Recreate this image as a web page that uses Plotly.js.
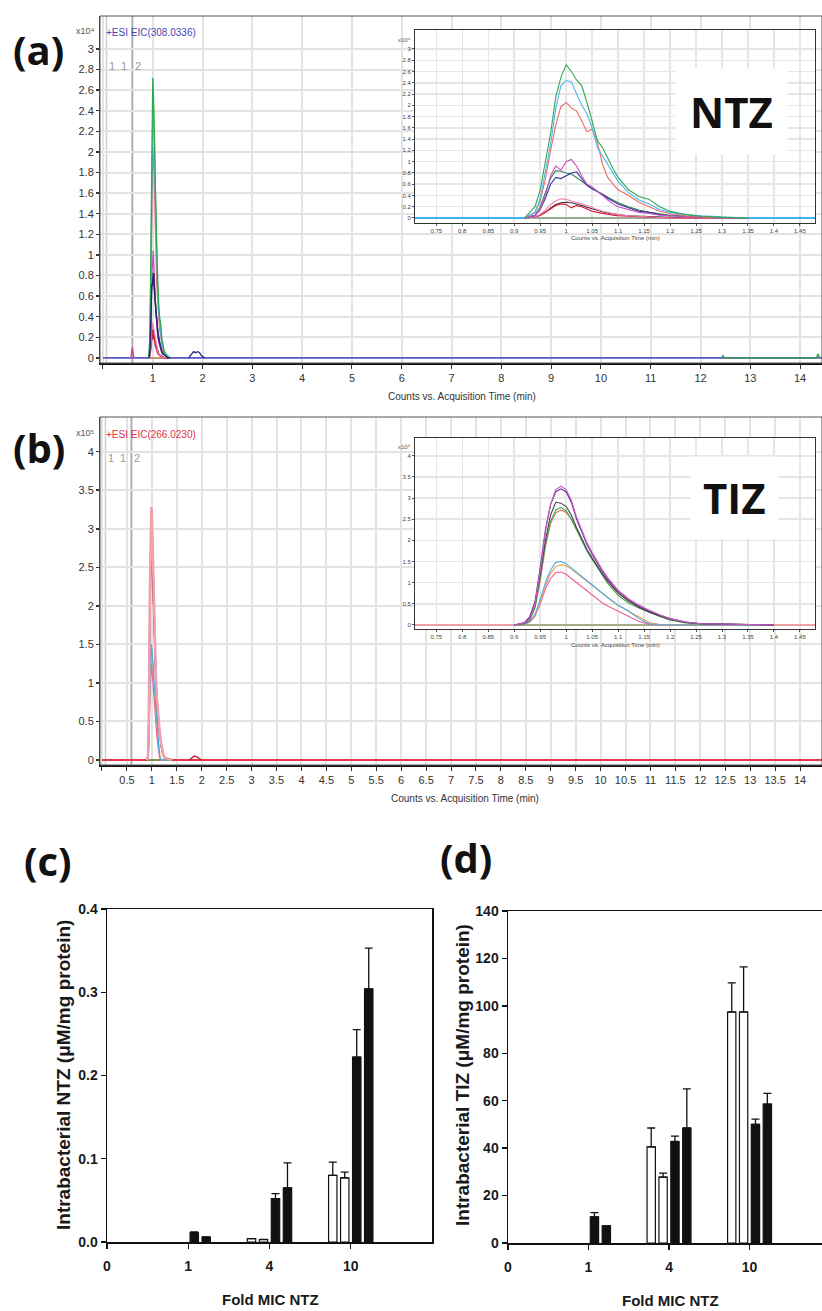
<!DOCTYPE html>
<html><head><meta charset="utf-8">
<script src="https://cdn.plot.ly/plotly-3.0.1.min.js"></script>
<style>html,body{margin:0;padding:0;background:#fff}#chart{width:822px;height:1311px}</style>
</head><body><div id="chart"></div>
<script>
// ================= DATA =================
// (a) NTZ extracted ion chromatograms, x10^4 counts vs time (min)
const tNTZ = [0.92,0.94,0.95,0.96,0.97,0.98,0.99,1.00,1.01,1.02,1.03,1.04,1.05,1.06,1.07,1.08,1.09,1.10,1.12,1.14,1.16,1.18,1.20,1.23,1.26,1.30,1.35];
const ntzGreen     = [0,0.20,0.50,1.00,1.50,2.15,2.50,2.72,2.60,2.45,2.35,2.05,1.72,1.38,1.25,1.05,0.88,0.72,0.50,0.38,0.33,0.20,0.12,0.06,0.03,0.01,0];
const ntzLightBlue = [0,0.10,0.35,0.80,1.30,1.95,2.35,2.44,2.42,2.20,2.00,1.85,1.60,1.25,1.10,0.95,0.80,0.65,0.45,0.32,0.25,0.15,0.10,0.06,0.04,0.02,0];
const ntzSalmon    = [0,0.10,0.30,0.70,1.20,1.65,1.98,2.05,1.95,1.90,1.72,1.53,1.58,1.35,0.95,0.72,0.60,0.50,0.40,0.28,0.20,0.12,0.08,0.04,0.02,0,0];
const ntzMagenta   = [0,0.05,0.15,0.40,0.75,0.92,0.85,1.00,1.04,0.92,0.75,0.60,0.55,0.48,0.40,0.32,0.25,0.20,0.15,0.10,0.08,0.05,0.04,0.03,0.02,0,0];
const ntzDarkBlue  = [0,0.05,0.15,0.35,0.60,0.72,0.70,0.75,0.80,0.82,0.70,0.58,0.52,0.47,0.42,0.35,0.30,0.25,0.18,0.12,0.10,0.06,0.04,0.03,0.02,0,0];
const ntzDarkGreen = [0,0.05,0.20,0.45,0.70,0.84,0.83,0.80,0.78,0.72,0.65,0.58,0.52,0.47,0.42,0.37,0.32,0.27,0.20,0.14,0.10,0.07,0.05,0.03,0.02,0,0];
const ntzPink      = [0,0.02,0.06,0.14,0.24,0.30,0.34,0.33,0.30,0.28,0.25,0.22,0.18,0.15,0.12,0.10,0.08,0.06,0.04,0.03,0.02,0.01,0,0,0,0,0];
const ntzBlack     = [0,0.02,0.05,0.10,0.18,0.24,0.27,0.28,0.27,0.25,0.22,0.19,0.16,0.13,0.11,0.09,0.07,0.06,0.04,0.03,0.02,0.01,0.01,0,0,0,0];
const ntzRed       = [0,0.02,0.05,0.10,0.16,0.22,0.25,0.24,0.18,0.22,0.20,0.16,0.12,0.10,0.08,0.06,0.05,0.04,0.03,0.02,0.01,0.01,0,0,0,0,0];
const ntzOrange    = [0,0,0,0,0,0,0,0,0,0,0,0,0,0,0,0,0,0,0,0,0,0,0,0,0,0,0];
// small features of the full-run NTZ trace
const tBumpA  = [1.72,1.78,1.82,1.86,1.90,1.94,1.98,2.04];
const yBumpA  = [0,0.04,0.06,0.05,0.06,0.05,0.02,0];
const tSpikeA = [0.56,0.59,0.62];
const ySpikeA = [0,0.10,0];
const tDotA   = [12.42,12.45,12.48,14.33,14.36,14.39];
const yDotA   = [0,0.02,0,0,0.04,0];

// (b) TIZ extracted ion chromatograms, x10^5 counts vs time (min)
const tTIZ = [0.90,0.92,0.93,0.94,0.95,0.96,0.97,0.98,0.99,1.00,1.01,1.02,1.03,1.04,1.05,1.06,1.07,1.08,1.10,1.12,1.14,1.16,1.18,1.20,1.23,1.26,1.30,1.35,1.40];
const tizMagenta = [0,0.05,0.15,0.50,1.30,2.20,2.85,3.20,3.28,3.20,2.95,2.55,2.25,1.95,1.72,1.50,1.30,1.12,0.82,0.62,0.47,0.35,0.24,0.15,0.07,0.03,0.02,0.01,0];
const tizPurple  = [0,0.06,0.20,0.55,1.35,2.25,2.85,3.15,3.22,3.15,2.90,2.50,2.20,1.90,1.67,1.45,1.26,1.08,0.80,0.60,0.45,0.33,0.23,0.15,0.07,0.03,0.02,0.01,0];
const tizGray    = [0,0.04,0.15,0.50,1.20,2.00,2.60,2.90,2.88,2.80,2.60,2.30,2.05,1.78,1.58,1.38,1.20,1.03,0.76,0.57,0.42,0.30,0.21,0.13,0.06,0.03,0.02,0.01,0];
const tizGreen   = [0,0.03,0.12,0.42,1.10,1.90,2.45,2.72,2.78,2.70,2.50,2.25,2.00,1.75,1.55,1.35,1.15,0.98,0.70,0.52,0.40,0.30,0.20,0.12,0.05,0.02,0.01,0,0];
const tizSalmon  = [0,0.03,0.12,0.40,1.05,1.85,2.40,2.65,2.72,2.66,2.50,2.25,2.02,1.78,1.58,1.38,1.20,1.03,0.75,0.56,0.42,0.31,0.22,0.14,0.06,0.03,0.02,0.01,0];
const tizBlue    = [0,0.02,0.08,0.25,0.60,1.00,1.30,1.48,1.50,1.45,1.35,1.25,1.15,1.05,0.93,0.83,0.74,0.65,0.47,0.33,0.15,0.03,0.01,0,0,0,0,0,0];
const tizOrange  = [0,0.02,0.07,0.22,0.55,0.92,1.22,1.38,1.42,1.40,1.32,1.22,1.12,1.02,0.92,0.82,0.73,0.64,0.46,0.32,0.18,0.06,0.01,0,0,0,0,0,0];
const tizPink    = [0,0.02,0.07,0.20,0.50,0.85,1.10,1.24,1.25,1.20,1.10,1.00,0.90,0.80,0.70,0.60,0.52,0.45,0.32,0.20,0.08,0.02,0,0,0,0,0,0,0];
const tizFlat    = [0,0,0,0,0,0,0,0,0,0,0,0,0,0,0,0,0,0,0,0,0,0,0,0,0,0,0,0,0];
const tBumpB  = [1.75,1.80,1.85,1.90,1.95,2.00];
const yBumpB  = [0,0.03,0.05,0.04,0.02,0];

// full-run baseline (both panels)
const tBaseline = [0,14.5];
const yBaseline = [0,0];
// reference marker times (grey vertical lines)
const markerTimes = [0.07,0.59];

// (c)/(d) bar data: fold MIC groups (null = no bar)
const foldLabels = ["0","1","4","10"];
const foldPos    = [1,2,3];
const noErr      = [0,0,0];
// (c) intrabacterial NTZ (uM/mg protein)
const ntzW1 = [null,0.004,0.080],  ntzW1err = [0,0,0.016];
const ntzW2 = [null,0.003,0.077],  ntzW2err = [0,0,0.007];
const ntzB1 = [0.011,0.052,0.222], ntzB1err = [0.001,0.006,0.033];
const ntzB2 = [0.006,0.065,0.304], ntzB2err = [0,0.030,0.049];
// (d) intrabacterial TIZ (uM/mg protein)
const tizW1 = [null,40.5,97.4], tizW1err = [0,8.0,12.3];
const tizW2 = [null,27.8,97.4], tizW2err = [0,1.7,19.0];
const tizB1 = [11.0,42.8,50.0], tizB1err = [1.8,2.3,2.2];
const tizB2 = [7.2,48.5,58.6], tizB2err = [0,16.5,4.5];

// tick labels
const xTicksA = [0,1,2,3,4,5,6,7,8,9,10,11,12,13,14];
const xTickTextA = ["","1","2","3","4","5","6","7","8","9","10","11","12","13","14"];
const yTicksA = [0,0.2,0.4,0.6,0.8,1,1.2,1.4,1.6,1.8,2,2.2,2.4,2.6,2.8,3];
const xTicksB = [0,0.5,1,1.5,2,2.5,3,3.5,4,4.5,5,5.5,6,6.5,7,7.5,8,8.5,9,9.5,10,10.5,11,11.5,12,12.5,13,13.5,14];
const xTickTextB = ["","0.5","1","1.5","2","2.5","3","3.5","4","4.5","5","5.5","6","6.5","7","7.5","8","8.5","9","9.5","10","10.5","11","11.5","12","12.5","13","13.5","14"];
const yTicksB = [0,0.5,1,1.5,2,2.5,3,3.5,4];
const yTicksInsetB = [0,0.5,1,1.5,2,2.5,3,3.5,4];
const yTicksC = [0,0.1,0.2,0.3,0.4];
const yTicksD = [0,20,40,60,80,100,120,140];

// ================= HELPERS =================
const W = 822, H = 1311;
const dx = (a,b) => [a/W, b/W];
const dy = (top,bottom) => [1-bottom/H, 1-top/H];
const px = v => v/W, py = v => 1-v/H;
const CF = 'Liberation Sans Narrow, Liberation Sans, Arial, sans-serif';
const BF = 'Liberation Sans, Arial, sans-serif';

const traces = [];
function line(x,y,color,xa,ya,w){
  traces.push({type:'scatter',mode:'lines',x:x,y:y,xaxis:xa,yaxis:ya,
    line:{color:color,width:w||1.2},hoverinfo:'skip'});
}
// NTZ series (main + inset)
const ntzSeries = [
  [ntzOrange,'#f4a442'],[ntzBlack,'#333333'],[ntzRed,'#e0102f'],[ntzPink,'#f27fb2'],
  [ntzDarkGreen,'#2e8b57'],[ntzDarkBlue,'#34349a'],[ntzMagenta,'#c94fc0'],
  [ntzSalmon,'#ef6b6b'],[ntzLightBlue,'#4db6ee'],[ntzGreen,'#2fa84f']
];
line(tBaseline,yBaseline,'#5a5ac8','x','y',1.6);
line(tSpikeA,ySpikeA,'#d0409a','x','y',1.4);
line(tBumpA,yBumpA,'#2a2a90','x','y',1.4);
line(tDotA,yDotA,'#30a050','x','y',1.4);
ntzSeries.forEach(s=>line(tNTZ,s[0],s[1],'x','y',1.3));
line(tNTZ,ntzDarkBlue,'#22226e','x','y',1.3);
line(tBaseline,yBaseline,'#3fb3ee','x2','y2',1.8);
ntzSeries.forEach(s=>line(tNTZ,s[0],s[1],'x2','y2',1.1));

// TIZ series
const tizSeries = [
  [tizFlat,'#5cb85c'],[tizPink,'#ef5f9a'],[tizOrange,'#f0a040'],[tizBlue,'#4aaeea'],
  [tizSalmon,'#f06a5a'],[tizGreen,'#36a852'],[tizGray,'#444444'],[tizPurple,'#5a2a9a'],[tizMagenta,'#d05cc8']
];
line(tBaseline,yBaseline,'#e23a4a','x3','y3',1.8);
line(tBumpB,yBumpB,'#c0203a','x3','y3',1.4);
tizSeries.forEach(s=>line(tTIZ,s[0],s[1],'x3','y3',1.3));
line(tTIZ,tizMagenta,'#f2a0b0','x3','y3',2.5);
line(tBaseline,yBaseline,'#f08888','x4','y4',1.6);
tizSeries.forEach(s=>line(tTIZ,s[0],s[1],'x4','y4',1.1));

// Bars
function bars(y,err,white,xa,ya){
  traces.push({type:'bar',x:foldPos,y:y,xaxis:xa,yaxis:ya,
    marker:{color:white?'#ffffff':'#111111',line:{color:'#111111',width:1.2}},
    error_y:{type:'data',symmetric:false,array:err,arrayminus:noErr,color:'#111111',thickness:1.3,width:4},
    hoverinfo:'skip'});
}
bars(ntzW1,ntzW1err,true,'x5','y5');
bars(ntzW2,ntzW2err,true,'x5','y5');
bars(ntzB1,ntzB1err,false,'x5','y5');
bars(ntzB2,ntzB2err,false,'x5','y5');
bars(tizW1,tizW1err,true,'x6','y6');
bars(tizW2,tizW2err,true,'x6','y6');
bars(tizB1,tizB1err,false,'x6','y6');
bars(tizB2,tizB2err,false,'x6','y6');

// ================= LAYOUT =================
const grid = '#e3e3e3';
function mainX(domain, range, tv, tt, anchor){
  return {domain:domain, range:range, anchor:anchor, tickmode:'array', tickvals:tv, ticktext:tt,
    showgrid:true, gridcolor:grid, gridwidth:2, zeroline:false, showline:true, linecolor:'#111', linewidth:2,
    ticks:'outside', ticklen:4, tickcolor:'#333', tickwidth:1, tickfont:{family:CF,size:11,color:'#333'}};
}
function mainY(domain, range, tv, anchor){
  return {domain:domain, range:range, anchor:anchor, tickmode:'array', tickvals:tv,
    showgrid:true, gridcolor:grid, gridwidth:2, zeroline:false, showline:true, linecolor:'#444', linewidth:1,
    ticks:'outside', ticklen:3, tickcolor:'#333', tickwidth:1.5, tickfont:{family:CF,size:11,color:'#333'}};
}
function insetX(domain, anchor){
  return {domain:domain, range:[0.709,1.479], anchor:anchor, tick0:0.75, dtick:0.05,
    showgrid:true, gridcolor:'#e6e6e6', gridwidth:1.5, zeroline:false, showline:true, mirror:true, linecolor:'#333', linewidth:1,
    ticks:'outside', ticklen:2, tickcolor:'#555', tickfont:{family:CF,size:6,color:'#444'}};
}
function insetY(domain, range, tv, anchor){
  return {domain:domain, range:range, anchor:anchor, tickmode:'array', tickvals:tv,
    showgrid:true, gridcolor:'#e6e6e6', gridwidth:1.5, zeroline:false, showline:true, mirror:true, linecolor:'#333', linewidth:1,
    ticks:'outside', ticklen:2, tickcolor:'#555', tickfont:{family:CF,size:6,color:'#444'}};
}
function barX(domain, range, anchor){
  return {domain:domain, range:range, anchor:anchor, tickmode:'array', tickvals:[0,1,2,3], ticktext:foldLabels,
    showgrid:false, zeroline:false, showline:true, mirror:true, linecolor:'#111', linewidth:1.5,
    ticks:'outside', ticklen:5, tickcolor:'#111', tickwidth:1.3, ticklabelstandoff:6,
    tickfont:{family:BF,size:14,color:'#1a1a1a',weight:'bold'}};
}
function barY(domain, range, tv, fmt, anchor, mirror){
  return {domain:domain, range:range, anchor:anchor, tickmode:'array', tickvals:tv, tickformat:fmt,
    showgrid:false, zeroline:false, showline:true, mirror:mirror, linecolor:'#111', linewidth:1.5,
    ticks:'outside', ticklen:5, tickcolor:'#111', tickwidth:1.3,
    tickfont:{family:BF,size:14,color:'#1a1a1a',weight:'bold'}};
}

function ann(text,x,y,opt){
  return Object.assign({text:text,xref:'paper',yref:'paper',x:px(x),y:py(y),showarrow:false,
    xanchor:'center',yanchor:'middle'},opt||{});
}
const panelFont = {family:'Open Sans, sans-serif',size:40,color:'#111',weight:'bold'};
const barTitleFont = {family:BF,size:19,color:'#1a1a1a',weight:'bold'};

const annotations = [
  ann('(a)',38,50,{font:panelFont}),
  ann('(b)',39,447,{font:panelFont}),
  ann('(c)',48,860,{font:panelFont}),
  ann('(d)',466,857,{font:panelFont}),
  ann('x10⁴',97,31,{xanchor:'right',font:{family:CF,size:9,color:'#555'}}),
  ann('x10⁵',97,433,{xanchor:'right',font:{family:CF,size:9,color:'#555'}}),
  ann('+ESI EIC(308.0336)',104,32,{xanchor:'left',font:{family:CF,size:10,color:'#4545b5'}}),
  ann('+ESI EIC(266.0230)',104,435,{xanchor:'left',font:{family:CF,size:10,color:'#e0304a'}}),
  ann('Counts vs. Acquisition Time (min)',462,396,{font:{family:CF,size:10,color:'#333'}}),
  ann('Counts vs. Acquisition Time (min)',465,798,{font:{family:CF,size:10,color:'#333'}}),
  ann('x10⁴',413,40,{xanchor:'right',font:{family:CF,size:6,color:'#555'}}),
  ann('x10⁵',413,447,{xanchor:'right',font:{family:CF,size:6,color:'#555'}}),
  ann('Counts vs. Acquisition Time (min)',615,238,{font:{family:CF,size:6,color:'#444'}}),
  ann('Counts vs. Acquisition Time (min)',615,645,{font:{family:CF,size:6,color:'#444'}}),
  ann('NTZ',731,111,{font:{family:'Open Sans, sans-serif',size:42,color:'#111',weight:'bold'},bgcolor:'#ffffff',borderpad:14}),
  ann('TIZ',734,497,{font:{family:'Open Sans, sans-serif',size:42,color:'#111',weight:'bold'},bgcolor:'#ffffff',borderpad:12}),
  ann('Intrabacterial NTZ (μM/mg protein)',63,1075,{textangle:-90,font:barTitleFont}),
  ann('Intrabacterial TIZ (μM/mg protein)',462,1075,{textangle:-90,font:barTitleFont}),
  ann('Fold MIC NTZ',270,1299,{font:{family:BF,size:15,color:'#1a1a1a',weight:'bold'}}),
  ann('Fold MIC NTZ',670,1300,{font:{family:BF,size:15,color:'#1a1a1a',weight:'bold'}})
];
// marker labels
[['x','y',58],['x3','y3',458]].forEach(r=>{
  const f = {family:CF,size:11,color:'#9a9a9a'};
  annotations.push({text:'1',xref:r[0],yref:'paper',x:markerTimes[0],y:py(r[2]),xanchor:'left',xshift:1,showarrow:false,font:f});
  annotations.push({text:'1',xref:r[0],yref:'paper',x:markerTimes[1],y:py(r[2]),xanchor:'right',xshift:-3,showarrow:false,font:f});
  annotations.push({text:'2',xref:r[0],yref:'paper',x:markerTimes[1],y:py(r[2]),xanchor:'left',xshift:1,showarrow:false,font:f});
});

const shapes = [];
[['x','y'],['x3','y3']].forEach(r=>{
  shapes.push({type:'rect',xref:r[0]+' domain',yref:r[1]+' domain',x0:0,x1:1,y0:0,y1:1,line:{color:'#555',width:1},layer:'above'});
  shapes.push({type:'line',xref:r[0],yref:r[1]+' domain',x0:markerTimes[0],x1:markerTimes[0],y0:0,y1:1,line:{color:'#d0d0d0',width:1.5},layer:'below'});
  shapes.push({type:'line',xref:r[0],yref:r[1]+' domain',x0:markerTimes[1],x1:markerTimes[1],y0:0,y1:1,line:{color:'#a8a8a8',width:1.8},layer:'below'});
});

const layout = {
  width:W, height:H, margin:{l:0,r:0,t:0,b:0}, paper_bgcolor:'#ffffff', plot_bgcolor:'#ffffff',
  showlegend:false, barmode:'group', bargap:0.41, bargroupgap:0.3,
  xaxis: mainX(dx(100,822),[-0.06,14.44],xTicksA,xTickTextA,'y'),
  yaxis: mainY(dy(16,363),[-0.05,3.32],yTicksA,'x'),
  xaxis2: insetX(dx(415,815),'y2'),
  yaxis2: insetY(dy(30,223),[-0.089,3.337],yTicksA,'x2'),
  xaxis3: mainX(dx(100,822),[-0.04,14.44],xTicksB,xTickTextB,'y3'),
  yaxis3: mainY(dy(417,765),[-0.065,4.45],yTicksB,'x3'),
  xaxis4: insetX(dx(415,815),'y4'),
  yaxis4: insetY(dy(438,629),[-0.095,4.42],yTicksInsetB,'x4'),
  xaxis5: barX(dx(107,432),[0,4],'y5'),
  yaxis5: barY(dy(909,1242),[0,0.4],yTicksC,'.1f','x5',true),
  xaxis6: barX(dx(508,822),[0,3.9],'y6'),
  yaxis6: barY(dy(911,1243),[0,140],yTicksD,'d','x6',false),
  annotations:annotations, shapes:shapes
};
Plotly.newPlot('chart',traces,layout,{staticPlot:true,displayModeBar:false});
</script></body></html>
